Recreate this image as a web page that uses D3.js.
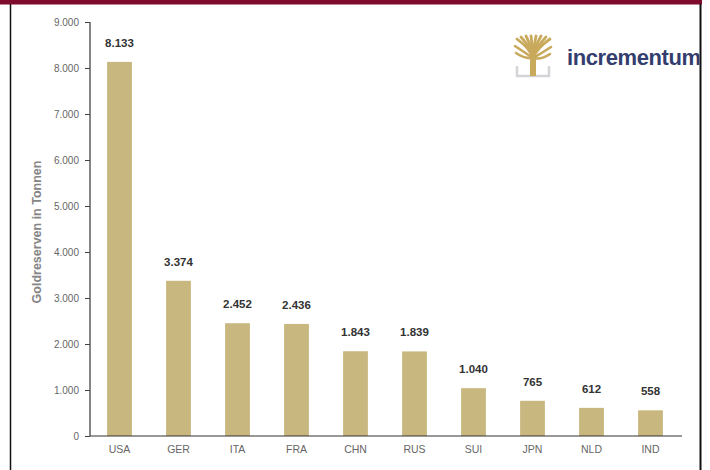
<!DOCTYPE html>
<html>
<head>
<meta charset="utf-8">
<script src="https://cdn.jsdelivr.net/npm/d3@7"></script>
<style>
  html, body { margin: 0; padding: 0; background: #fff; }
  svg { display: block; font-family: "Liberation Sans", Arial, sans-serif; }
</style>
</head>
<body>
<svg id="chart" width="710" height="470"></svg>
<script>
// Gold reserves by country, tonnes
const countries = ["USA", "GER", "ITA", "FRA", "CHN", "RUS", "SUI", "JPN", "NLD", "IND"];
const reserves = [8133, 3374, 2452, 2436, 1843, 1839, 1040, 765, 612, 558];
const yTicks = [0, 1000, 2000, 3000, 4000, 5000, 6000, 7000, 8000, 9000];
const yTitle = "Goldreserven in Tonnen";
const brand = "incrementum";

const data = countries.map((c, i) => ({ country: c, value: reserves[i] }));
const svg = d3.select("#chart");

// German number format: dot as thousands separator
const fmt = d3.formatLocale({ decimal: ",", thousands: ".", grouping: [3], currency: ["", "€"] }).format(",d");

// Frame: maroon top band and black side borders
svg.append("rect").attr("x", 0).attr("y", 0).attr("width", 702).attr("height", 4.5).attr("fill", "#7e0b2c");
svg.append("line").attr("x1", 10.5).attr("x2", 10.5).attr("y1", 4).attr("y2", 470).attr("stroke", "#111").attr("stroke-width", 1.5);
svg.append("line").attr("x1", 700.5).attr("x2", 700.5).attr("y1", 4).attr("y2", 470).attr("stroke", "#111").attr("stroke-width", 2);

const x = d3.scaleBand().domain(countries).range([90, 680]).paddingInner(0.58).paddingOuter(0.29);
const y = d3.scaleLinear().domain([0, 9000]).range([436, 22]);

// Bars
svg.append("g").selectAll("rect").data(data).join("rect")
  .attr("x", d => x(d.country))
  .attr("y", d => y(d.value))
  .attr("width", x.bandwidth())
  .attr("height", d => y(0) - y(d.value))
  .attr("fill", "#c8b77f");

// Value labels
svg.append("g").selectAll("text").data(data).join("text")
  .attr("x", d => x(d.country) + x.bandwidth() / 2)
  .attr("y", d => y(d.value) - 15)
  .attr("text-anchor", "middle")
  .attr("font-size", 11.5)
  .attr("font-weight", "bold")
  .attr("fill", "#333")
  .text(d => fmt(d.value));

// Y axis
const yAxis = svg.append("g").attr("transform", "translate(90,0)")
  .call(d3.axisLeft(y).tickValues(yTicks).tickFormat(fmt).tickSize(5).tickPadding(6));
yAxis.select(".domain").attr("stroke", "#333").attr("stroke-width", 1.2).attr("d", "M0,22V436");
yAxis.selectAll(".tick line").attr("stroke", "#444");
yAxis.selectAll(".tick text").attr("font-size", 10).attr("fill", "#666").attr("font-family", "Liberation Sans, Arial, sans-serif");

// X axis
const xAxis = svg.append("g").attr("transform", "translate(0,436)")
  .call(d3.axisBottom(x).tickSize(0).tickPadding(10));
xAxis.select(".domain").attr("stroke", "#333").attr("stroke-width", 1.2).attr("d", "M90,0H682");
xAxis.selectAll(".tick text").attr("font-size", 10.5).attr("fill", "#666").attr("font-family", "Liberation Sans, Arial, sans-serif");

// Y axis title
svg.append("text")
  .attr("transform", "translate(41,232) rotate(-90)")
  .attr("text-anchor", "middle")
  .attr("font-size", 12.5)
  .attr("font-weight", "bold")
  .attr("fill", "#858585")
  .text(yTitle);

// Brand mark: stylised tree with a base bracket, and the wordmark
const logo = svg.append("g").attr("transform", "translate(533,0)");
logo.append("path")
  .attr("d", "M-16,66V76H16V66")
  .attr("fill", "none").attr("stroke", "#d4d4d8").attr("stroke-width", 2.5);
const gold = "#c9a95c";
const branches = [
  [-16, 39], [-12, 37], [-7, 36], [-2, 36], [3, 36], [8, 36], [13, 37], [17, 39]
];
branches.forEach(([bx, by]) => {
  logo.append("path")
    .attr("d", `M0,58 Q${bx * 0.2},${(by + 58) / 2} ${bx},${by}`)
    .attr("fill", "none").attr("stroke", gold).attr("stroke-width", 2.8).attr("stroke-linecap", "round");
});
[[-18, 46], [18, 47], [-17, 53], [17, 54]].forEach(([bx, by]) => {
  logo.append("path")
    .attr("d", `M0,58 Q${bx * 0.5},${by + 6} ${bx},${by}`)
    .attr("fill", "none").attr("stroke", gold).attr("stroke-width", 2.6).attr("stroke-linecap", "round");
});
logo.append("rect").attr("x", -3).attr("y", 50).attr("width", 6).attr("height", 26).attr("fill", gold);

svg.append("defs").append("clipPath").attr("id", "brandClip")
  .append("rect").attr("x", 550).attr("y", 30).attr("width", 149.5).attr("height", 60);
svg.append("text")
  .attr("clip-path", "url(#brandClip)")
  .attr("x", 567).attr("y", 65)
  .attr("font-size", 22)
  .attr("font-weight", "bold")
  .attr("fill", "#333e6e")
  .attr("letter-spacing", -0.4)
  .text(brand);
</script>
</body>
</html>
